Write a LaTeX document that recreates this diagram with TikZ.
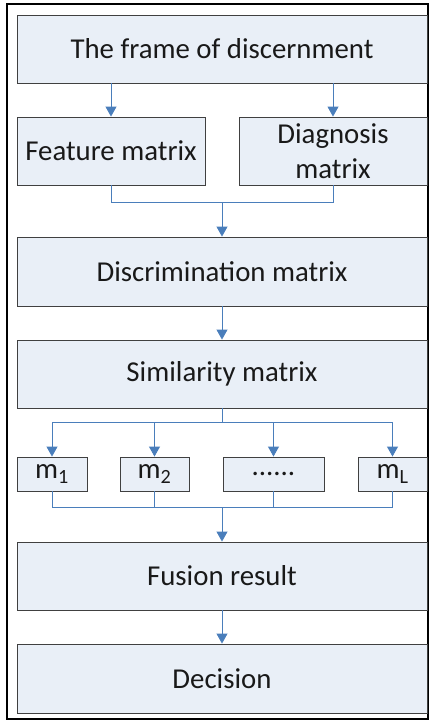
\documentclass[tikz,border=0pt]{standalone}
\usepackage{fontspec}
\setmainfont{Carlito}
\usetikzlibrary{arrows.meta}
\definecolor{boxfill}{HTML}{E9EFF7}
\definecolor{boxline}{HTML}{404040}
\definecolor{linkblue}{HTML}{4A7EBB}
\begin{document}
\begin{tikzpicture}[x=1pt, y=-1pt,
    box/.style={draw=boxline, fill=boxfill, line width=0.9pt, inner sep=0pt, align=center,
      font=\fontsize{28.8}{35}\selectfont, text=black!90},
    link/.style={draw=linkblue, line width=0.9pt},
    flow/.style={link, -{Triangle[length=10pt, width=11pt]}}]
    \useasboundingbox (0,0) rectangle (431,723);
    % Outer frame
    \draw[line width=2pt, black] (7,4) rectangle (428,719);
    % Boxes
    \node[box, minimum width=410pt, minimum height=68pt] (frame) at (222,49) {The frame of discernment};
    \node[box, minimum width=188pt, minimum height=68pt] (feat) at (111,151) {Feature matrix};
    \node[box, minimum width=188pt, minimum height=68pt] (diag) at (333,151) {Diagnosis\\matrix};
    \node[box, minimum width=410pt, minimum height=69pt] (discr) at (222,271.5) {Discrimination matrix};
    \node[box, minimum width=410pt, minimum height=68pt] (simil) at (222,374) {Similarity matrix};
    \node[box, minimum width=70pt, minimum height=34pt] (m1) at (52,474) {m\textsubscript{1}};
    \node[box, minimum width=69pt, minimum height=34pt] (m2) at (154.5,474) {m\textsubscript{2}};
    \node[box, minimum width=101pt, minimum height=34pt] (mdots) at (273.5,474) {......};
    \node[box, minimum width=69pt, minimum height=34pt] (mL) at (392.5,474) {m\textsubscript{L}};
    \node[box, minimum width=410pt, minimum height=68pt] (fusion) at (222,576) {Fusion result};
    \node[box, minimum width=410pt, minimum height=69pt] (decision) at (222,678.5) {Decision};
    % Junction points
    \coordinate (join1) at (222,202);
    \coordinate (split) at (222,422);
    \coordinate (join2) at (222,507);
    % Frame to the two matrices
    \draw[flow] (frame.south -| feat.north) -- (feat.north);
    \draw[flow] (frame.south -| diag.north) -- (diag.north);
    % Matrices merge into discrimination matrix
    \draw[link] (feat.south) |- (join1);
    \draw[link] (diag.south) |- (join1);
    \draw[flow] (join1) -- (discr.north);
    \draw[flow] (discr.south) -- (simil.north);
    % Similarity matrix splits into the evidences
    \draw[link] (simil.south) -- (split);
    \foreach \m in {m1,m2,mdots,mL} {
      \draw[flow] (split) -| (\m.north);
      \draw[link] (\m.south) |- (join2);
    }
    \draw[flow] (join2) -- (fusion.north);
    \draw[flow] (fusion.south) -- (decision.north);
\end{tikzpicture}
\end{document}
